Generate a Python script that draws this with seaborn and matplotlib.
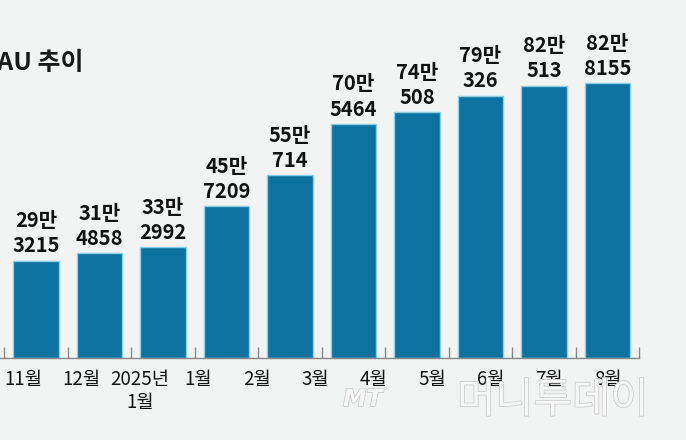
import matplotlib
matplotlib.use("Agg")
import matplotlib.pyplot as plt
import matplotlib.patheffects as pe
import seaborn as sns
import pandas as pd

# ---- data ----
bar_keys = ["2024-11", "2024-12", "2025-01", "2025-02", "2025-03",
            "2025-04", "2025-05", "2025-06", "2025-07", "2025-08"]
mau_values = [293215, 314858, 332992, 457209, 550714,
              705464, 740508, 790326, 820513, 828155]
tick_labels = ["11월", "12월", "2025년\n1월", "1월", "2월", "3월",
               "4월", "5월", "6월", "7월", "8월"]
title_text = "MAU 추이"
watermark_logo = "MT"
watermark_name = "머니투데이"

sns.set_theme(style="white")
plt.rcParams["font.family"] = ["Noto Sans CJK KR", "DejaVu Sans"]

BG = "#f2f4f4"
BAR = "#0d72a0"

fig = plt.figure(figsize=(6.86, 4.40), dpi=100, facecolor=BG)
ax = fig.add_axes([0, 82 / 440, 1, 1 - 82 / 440])
ax.set_facecolor(BG)

# watermark (behind everything)
wm_fx = [pe.withStroke(linewidth=1.2, foreground="#cdcdcd")]
fig.text(343 / 686, 1 - 399 / 440, watermark_logo, ha="left", va="center",
         fontsize=17, fontstyle="italic", fontweight="bold", color="#f7f7f7",
         family=["DejaVu Sans"], zorder=0, path_effects=wm_fx)
fig.text(457 / 686, 1 - 401 / 440, watermark_name, ha="left", va="center",
         fontsize=30, fontweight="light", color="#f7f7f7", zorder=0,
         path_effects=wm_fx)

df = pd.DataFrame({"month": bar_keys, "mau": mau_values})
sns.barplot(data=df, x="month", y="mau", order=bar_keys, color=BAR,
            saturation=1, width=0.72, edgecolor="#86cfe6", linewidth=1.0,
            ax=ax)

labels = [f"{v // 10000}만\n{v % 10000}" for v in mau_values]
ax.bar_label(ax.containers[0], labels=labels, padding=3, fontsize=14.5,
             fontweight="heavy", color="#111111", linespacing=1.25)

ax.set_xlim(-0.567, 10.236)
ax.set_ylim(0, 1.078e6)
ax.set_xlabel("")
ax.set_ylabel("")
ax.set_yticks([])

# major ticks between bars (marks only)
n = len(tick_labels)
ax.set_xticks([k - 0.5 for k in range(n)])
ax.set_xticklabels([""] * n)
ax.tick_params(axis="x", which="major", direction="in", length=8,
               width=1, color="#888888", bottom=True)
# labels as minor ticks
ax.set_xticks([-0.205 + 0.921 * k for k in range(n)], minor=True)
ax.set_xticklabels(tick_labels, minor=True, fontsize=13.5, color="#141414",
                   fontweight="medium", linespacing=1.1, va="top")
ax.tick_params(axis="x", which="minor", length=0, pad=8)

for s in ["top", "right", "left"]:
    ax.spines[s].set_visible(False)
ax.spines["bottom"].set_color("#888888")
ax.spines["bottom"].set_linewidth(1.0)
ax.spines["bottom"].set_bounds(-0.567, 9.5)

fig.text(84 / 686, 1 - 63 / 440, title_text, ha="right", va="center",
         fontsize=18, fontweight="bold", color="#1a1a1a")

fig.savefig("out.png", dpi=100, facecolor=BG)
